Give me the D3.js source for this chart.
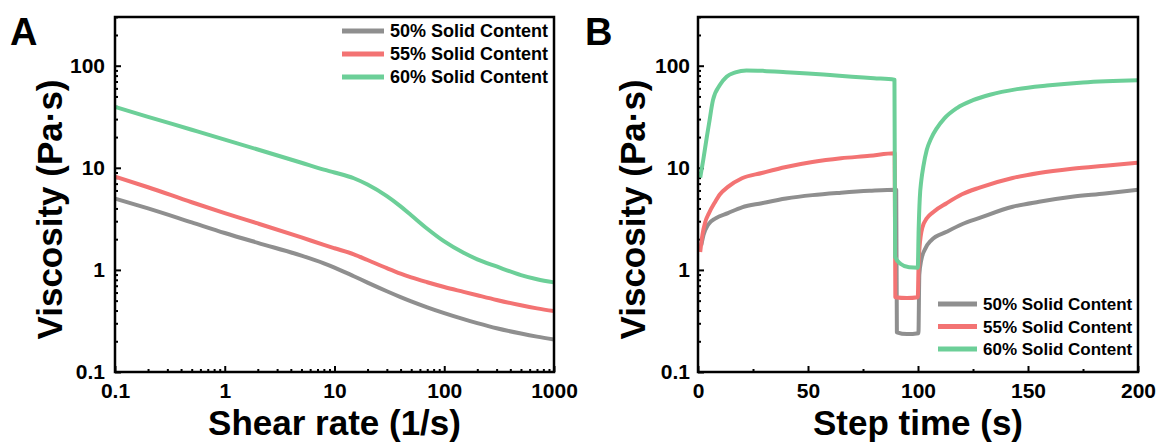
<!DOCTYPE html>
<html>
<head>
<meta charset="utf-8">
<script src="https://cdn.jsdelivr.net/npm/d3@7"></script>
<style>
  body{margin:0;background:#fff}
  svg{display:block}
  text{font-family:"Liberation Sans",Arial,sans-serif;font-weight:bold}
</style>
</head>
<body>
<svg id="chart" width="1159" height="447"></svg>
<script>
// ---- data ----
var seriesNames = ["50% Solid Content", "55% Solid Content", "60% Solid Content"];
var seriesColors = ["#8f8f8f", "#f37373", "#6ccf98"];

// panel A : viscosity vs shear rate
var shearRate = [0.1, 0.2, 0.5, 1, 2, 5, 8, 10, 15, 20, 30, 40, 50, 70, 100, 150, 200, 300, 500, 700, 1000];
var flow50 = [5.0, 4.0, 2.92, 2.3, 1.84, 1.38, 1.16, 1.055, 0.867, 0.751, 0.618, 0.542, 0.492, 0.43, 0.377, 0.329, 0.301, 0.268, 0.238, 0.222, 0.208];
var flow55 = [8.2, 6.45, 4.6, 3.6, 2.85, 2.08, 1.76, 1.63, 1.42, 1.25, 1.04, 0.92, 0.845, 0.757, 0.68, 0.61, 0.565, 0.508, 0.45, 0.42, 0.395];
var flow60 = [39.5, 31.6, 23.6, 18.9, 15.1, 11.2, 9.6, 9.0, 7.9, 6.85, 5.27, 4.19, 3.43, 2.53, 1.9, 1.47, 1.27, 1.08, 0.89, 0.81, 0.755];

// panel B : three step thixotropy test
var stepTime50 = [1.5, 2.5, 4.5, 8, 13.6, 20, 29, 40, 52, 65, 78, 90.1, 90.4, 95, 100.2, 100.6, 101.5, 103, 106, 113, 120, 128, 143, 155, 170, 185, 200];
var step50 = [1.75, 2.2, 2.76, 3.2, 3.6, 4.1, 4.5, 5.0, 5.4, 5.7, 5.95, 6.1, 0.245, 0.235, 0.24, 0.9, 1.25, 1.57, 1.95, 2.36, 2.8, 3.23, 4.15, 4.65, 5.2, 5.6, 6.1];
var stepTime55 = [1, 2, 3.2, 5, 7.7, 10, 13.6, 20, 29, 40, 52, 65, 78, 89.4, 89.7, 95, 99.9, 100.3, 101.3, 102, 104, 107, 113, 120, 128, 143, 155, 170, 185, 200];
var step55 = [1.5, 2.2, 2.9, 3.6, 4.6, 5.5, 6.5, 7.9, 8.9, 10.2, 11.4, 12.4, 13.1, 13.9, 0.54, 0.53, 0.54, 1.2, 2.2, 2.6, 3.2, 3.7, 4.5, 5.5, 6.4, 7.95, 8.9, 9.8, 10.5, 11.2];
var stepTime60 = [1, 2.4, 4, 5, 6.8, 10, 13, 17, 22, 30, 40, 50, 60, 70, 80, 89.3, 89.6, 92, 96, 99.9, 100.3, 100.8, 101.5, 102.5, 104, 106, 108.6, 112, 117.7, 125, 132.7, 145, 158.6, 175, 200];
var step60 = [8, 12, 20, 27, 46, 65, 78, 86, 90, 89, 86.5, 84, 81, 78, 75.5, 73, 1.34, 1.15, 1.06, 1.05, 2.5, 5, 7.5, 10.5, 15, 19.5, 24.5, 30.5, 38.5, 46, 52, 59, 64, 68.5, 72];

var viscTicks = [0.1, 1, 10, 100];
var shearTicks = [0.1, 1, 10, 100, 1000];
var timeTicks = [0, 50, 100, 150, 200];
var timeMinor = [25, 75, 125, 175];

var svg = d3.select("#chart");

function logMinor(lo, hi){
  var out = [];
  for (var d = lo; d < hi; d *= 10){
    for (var k = 2; k <= 9; k++){
      var v = +(d * k).toPrecision(3);
      if (v <= hi) out.push(v);
    }
  }
  return out;
}

function styleAxis(sel, size){
  sel.select(".domain").remove();
  sel.selectAll("line").attr("stroke", "#000").attr("stroke-width", 2);
  sel.selectAll("text").attr("fill", "#000").style("font-size", size + "px")
    .style("font-family", '"Liberation Sans",Arial,sans-serif').style("font-weight", "bold");
}

function drawPanel(p){
  var g = svg.append("g");
  var x = p.x, y = p.y;

  // minor ticks
  g.append("g").attr("transform", "translate(0," + p.bottom + ")")
    .call(d3.axisBottom(x).tickValues(p.xMinor).tickSize(-3).tickFormat(""))
    .call(styleAxis, 21);
  g.append("g").attr("transform", "translate(" + p.left + ",0)")
    .call(d3.axisLeft(y).tickValues(logMinor(0.1, 300)).tickSize(-3).tickFormat(""))
    .call(styleAxis, 21);

  // major ticks
  g.append("g").attr("transform", "translate(0," + p.bottom + ")")
    .call(d3.axisBottom(x).tickValues(p.xTicks).tickSize(-6).tickPadding(11).tickFormat(function(d){ return d; }))
    .call(styleAxis, 21);
  g.append("g").attr("transform", "translate(" + p.left + ",0)")
    .call(d3.axisLeft(y).tickValues(viscTicks).tickSize(-6).tickPadding(p.yPad).tickFormat(function(d){ return d; }))
    .call(styleAxis, 21);

  // curves
  var line = d3.line()
    .x(function(d){ return x(d[0]); })
    .y(function(d){ return y(d[1]); })
    .curve(d3.curveMonotoneX);
  p.series.forEach(function(s, i){
    var pts = s.xs.map(function(v, j){ return [v, s.ys[j]]; });
    g.append("path").datum(pts)
      .attr("d", line)
      .attr("fill", "none")
      .attr("stroke", seriesColors[i])
      .attr("stroke-width", 4)
      .attr("stroke-linejoin", "round");
  });

  // frame
  g.append("rect")
    .attr("x", p.left).attr("y", p.top)
    .attr("width", p.right - p.left).attr("height", p.bottom - p.top)
    .attr("fill", "none").attr("stroke", "#000").attr("stroke-width", 2.5);

  // legend
  var lg = g.append("g");
  seriesNames.forEach(function(name, i){
    var cy = p.legY + i * p.legStep;
    lg.append("line")
      .attr("x1", p.legX).attr("x2", p.legX + p.legLen)
      .attr("y1", cy).attr("y2", cy)
      .attr("stroke", seriesColors[i]).attr("stroke-width", 5);
    lg.append("text")
      .attr("x", p.legX + p.legLen + 6).attr("y", cy).attr("dy", "0.36em")
      .style("font-size", p.legFont + "px")
      .text(name);
  });

  // titles
  g.append("text")
    .attr("transform", "translate(" + p.yTitleX + "," + ((p.top + p.bottom) / 2 + 15) + ") rotate(-90)")
    .attr("text-anchor", "middle")
    .style("font-size", "35px")
    .text("Viscosity (Pa·s)");
  g.append("text")
    .attr("x", (p.left + p.right) / 2).attr("y", 435)
    .attr("text-anchor", "middle")
    .style("font-size", "35px")
    .text(p.xTitle);
  g.append("text")
    .attr("x", p.letterX).attr("y", 45)
    .style("font-size", "38px")
    .text(p.letter);
}

// panel A
var xA = d3.scaleLog().domain([0.1, 1000]).range([115, 554]);
var yA = d3.scaleLog().domain([0.1, 300]).range([372, 17]);
drawPanel({
  x: xA, y: yA, left: 115, right: 554, top: 17, bottom: 372,
  xTicks: shearTicks, xMinor: logMinor(0.1, 1000), yPad: 10,
  series: [
    {xs: shearRate, ys: flow50},
    {xs: shearRate, ys: flow55},
    {xs: shearRate, ys: flow60}
  ],
  legX: 342, legLen: 42, legY: 31, legStep: 23, legFont: 18,
  yTitleX: 62, xTitle: "Shear rate (1/s)", letter: "A", letterX: 10
});

// panel B
var xB = d3.scaleLinear().domain([0, 200]).range([698, 1138]);
var yB = d3.scaleLog().domain([0.1, 300]).range([372, 17]);
drawPanel({
  x: xB, y: yB, left: 698, right: 1138, top: 17, bottom: 372,
  xTicks: timeTicks, xMinor: timeMinor, yPad: 8,
  series: [
    {xs: stepTime50, ys: step50},
    {xs: stepTime55, ys: step55},
    {xs: stepTime60, ys: step60}
  ],
  legX: 938, legLen: 39, legY: 304, legStep: 22.5, legFont: 17,
  yTitleX: 645, xTitle: "Step time (s)", letter: "B", letterX: 585
});
</script>
</body>
</html>
